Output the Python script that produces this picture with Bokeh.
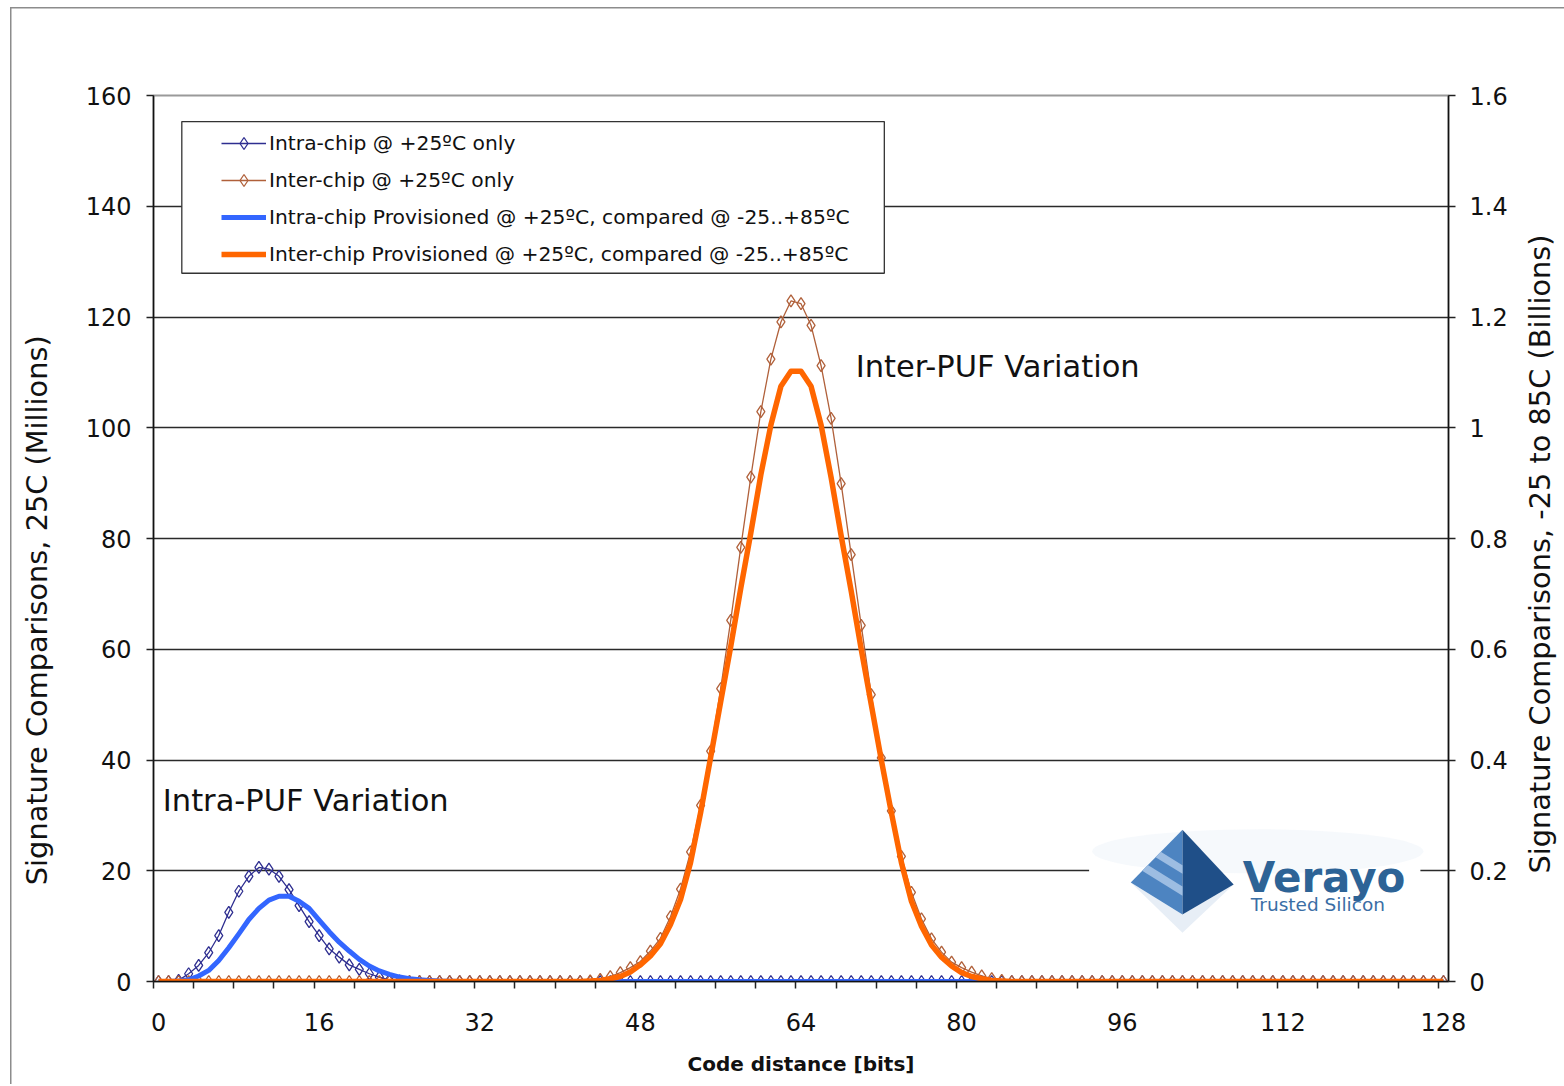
import numpy as np
from bokeh.plotting import figure
from bokeh.models import (Range1d, LinearAxis, FixedTicker, CustomJSTickFormatter,
                          Legend, LegendItem, BoxAnnotation, Label)
from bokeh.embed import file_html
from bokeh.resources import INLINE

# ---------------- data ----------------
N_CATS = 129
categories = list(range(N_CATS))            # code distance 0..128 bits
x_tick_values = [0, 16, 32, 48, 64, 80, 96, 112, 128]
x_minor_ticks = list(range(0, 129, 4))
y_left_ticks = [0, 20, 40, 60, 80, 100, 120, 140, 160]
y_right_ticks = [0, 0.2, 0.4, 0.6, 0.8, 1.0, 1.2, 1.4, 1.6]

# Intra-chip @ +25C only (millions), categories 2..24
intra_25_start = 2
intra_25_vals = [0.2, 1.4, 2.9, 5.2, 8.3, 12.5, 16.3, 19.0, 20.6, 20.3, 19.0, 16.6,
                 13.7, 10.8, 8.3, 5.9, 4.4, 3.0, 2.2, 1.4, 0.8, 0.3, 0.1]
# Inter-chip @ +25C only (millions), categories 43..84
inter_25_start = 43
inter_25_vals = [0.1, 0.4, 0.9, 1.6, 2.5, 3.6, 5.5, 7.8, 11.7, 16.7, 23.4, 31.8, 41.6,
                 52.9, 65.2, 78.4, 91.1, 102.9, 112.4, 119.1, 122.9, 122.4, 118.5, 111.2,
                 101.7, 89.9, 77.1, 64.3, 51.8, 40.4, 30.8, 22.6, 16.1, 11.3, 7.7, 5.3,
                 3.5, 2.5, 1.7, 1.0, 0.5, 0.2]
# Intra-chip provisioned @ +25C, compared @ -25..+85C (billions), categories 2..29
intra_prov_start = 2
intra_prov_vals = [0.001, 0.003, 0.010, 0.020, 0.038, 0.061, 0.086, 0.112, 0.132, 0.147,
                   0.154, 0.154, 0.145, 0.132, 0.111, 0.090, 0.071, 0.055, 0.040, 0.028,
                   0.019, 0.013, 0.008, 0.005, 0.003, 0.002, 0.001, 0.0005]
# Inter-chip provisioned @ +25C, compared @ -25..+85C (billions), categories 43..84
inter_prov_start = 43
inter_prov_vals = [0.001, 0.002, 0.005, 0.009, 0.017, 0.030, 0.046, 0.068, 0.103, 0.148,
                   0.215, 0.305, 0.405, 0.505, 0.605, 0.710, 0.810, 0.915, 1.005, 1.075,
                   1.102, 1.102, 1.075, 1.005, 0.910, 0.805, 0.705, 0.600, 0.500, 0.400,
                   0.305, 0.215, 0.145, 0.100, 0.066, 0.044, 0.028, 0.016, 0.009, 0.005,
                   0.002, 0.001]

legend_labels = ["Intra-chip @ +25ºC only",
                 "Inter-chip @ +25ºC only",
                 "Intra-chip Provisioned @ +25ºC, compared @ -25..+85ºC",
                 "Inter-chip Provisioned @ +25ºC, compared @ -25..+85ºC"]
left_title_text = "Signature Comparisons, 25C (Millions)"
right_title_text = "Signature Comparisons, -25 to 85C (Billions)"
x_title_text = "Code distance [bits]"


def full_series(start, vals):
    arr = [0.0] * N_CATS
    for i, v in enumerate(vals):
        arr[start + i] = v
    return arr


intra_25 = full_series(intra_25_start, intra_25_vals)
inter_25 = full_series(inter_25_start, inter_25_vals)
intra_prov = full_series(intra_prov_start, intra_prov_vals)
inter_prov = full_series(inter_prov_start, inter_prov_vals)

# category axis: each category occupies one unit, point at its centre
xs = [c + 0.5 for c in categories]

FONT = "DejaVu Sans"
TXT = "#111111"

p = figure(frame_width=1295, frame_height=886,
           x_range=Range1d(0, N_CATS), y_range=Range1d(0, 160),
           output_backend="svg", toolbar_location=None,
           min_border_left=153, min_border_right=116,
           min_border_top=95, min_border_bottom=103,
           background_fill_color="white", border_fill_color="white", border_fill_alpha=0)
p.extra_y_ranges = {"right": Range1d(0, 1.6)}
# outer chart frame (left and top edges) drawn behind the transparent canvas border
p.styles = {
    "background-color": "white",
    "background-image": "linear-gradient(#8c8c8c, #8c8c8c), linear-gradient(#8c8c8c, #8c8c8c)",
    "background-size": "1.5px 100%, 100% 1.5px",
    "background-position": "10px 7px, 10px 7px",
    "background-repeat": "no-repeat",
}

p.outline_line_color = "#9a9a9a"
p.outline_line_width = 2

p.xgrid.visible = False
p.ygrid.ticker = FixedTicker(ticks=y_left_ticks[1:-1])
p.ygrid.grid_line_color = "#2a2a2a"
p.ygrid.grid_line_width = 1.5

# x axis
xa = p.xaxis[0]
xa.ticker = FixedTicker(ticks=[v + 0.5 for v in x_tick_values], minor_ticks=x_minor_ticks)
xa.formatter = CustomJSTickFormatter(code="return (tick - 0.5).toFixed(0);")
xa.major_tick_out = 0
xa.major_tick_in = 0
xa.minor_tick_out = 7
xa.minor_tick_in = 0
xa.minor_tick_line_color = "#222222"
xa.minor_tick_line_width = 1.5
xa.axis_line_color = "#111111"
xa.axis_line_width = 1.5
xa.major_label_standoff = 24
xa.major_label_text_font = FONT
xa.major_label_text_font_size = "24px"
xa.major_label_text_color = TXT
xa.axis_label = x_title_text
xa.axis_label_text_font = FONT
xa.axis_label_text_font_style = "bold"
xa.axis_label_text_font_size = "20px"
xa.axis_label_text_color = TXT
xa.axis_label_standoff = 18

# left y axis
ya = p.yaxis[0]
ya.ticker = FixedTicker(ticks=y_left_ticks)
ya.major_tick_out = 7
ya.major_tick_in = 0
ya.minor_tick_out = 0
ya.minor_tick_in = 0
ya.major_tick_line_color = "#222222"
ya.major_tick_line_width = 1.5
ya.axis_line_color = "#111111"
ya.axis_line_width = 1.5
ya.major_label_standoff = 15
ya.major_label_text_font = FONT
ya.major_label_text_font_size = "24px"
ya.major_label_text_color = TXT

# right y axis
ra = LinearAxis(y_range_name="right", ticker=FixedTicker(ticks=y_right_ticks),
                formatter=CustomJSTickFormatter(code="return tick.toFixed(1).replace(/\\.0$/, '');"))
ra.major_tick_out = 7
ra.major_tick_in = 0
ra.minor_tick_out = 0
ra.minor_tick_in = 0
ra.major_tick_line_color = "#222222"
ra.major_tick_line_width = 1.5
ra.axis_line_color = "#111111"
ra.axis_line_width = 1.5
ra.major_label_standoff = 14
ra.major_label_text_font = FONT
ra.major_label_text_font_size = "24px"
ra.major_label_text_color = TXT
p.add_layout(ra, "right")


def title_axis(tick_value, text, standoff):
    """A bare helper axis whose single rotated tick label serves as an axis title."""
    ax = LinearAxis(ticker=FixedTicker(ticks=[tick_value]),
                    formatter=CustomJSTickFormatter(args=dict(t=text), code="return t;"),
                    major_label_orientation=np.pi / 2)
    ax.axis_line_color = None
    ax.major_tick_line_color = None
    ax.minor_tick_line_color = None
    ax.major_tick_out = 0
    ax.major_tick_in = 0
    ax.minor_tick_out = 0
    ax.minor_tick_in = 0
    ax.major_label_standoff = standoff
    ax.major_label_text_font = FONT
    ax.major_label_text_font_size = "28.8px"
    ax.major_label_text_line_height = 0.8
    ax.major_label_text_color = TXT
    return ax


# right title: starts near the bottom and runs upward
p.add_layout(title_axis(19.5, right_title_text, 30), "right")
# left title: ends near the top (label anchored at its end on the left side)
p.add_layout(title_axis(116.7, left_title_text, 45), "left")

# ---------------- logo (decoration) ----------------
p.quad(left=93.2, right=126.2, bottom=8.5, top=30.5, fill_color="white", line_color=None)
p.ellipse(x=110, y=23.5, width=33, height=8, fill_color="#e6eef7", fill_alpha=0.35, line_color=None)
apex = (102.5, 27.4)
lft = (97.35, 17.9)
front = (102.5, 12.1)
rgt = (107.6, 17.5)
p.patch([lft[0], front[0], rgt[0], front[0]], [lft[1], front[1], rgt[1], 8.8],
        fill_color="#b9cde6", fill_alpha=0.35, line_color=None)
p.patch([apex[0], lft[0], front[0]], [apex[1], lft[1], front[1]], fill_color="#4d84c1", line_color=None)
p.patch([apex[0], front[0], rgt[0]], [apex[1], front[1], rgt[1]], fill_color="#1f4f88", line_color=None)
for t1, t2 in [(0.22, 0.33), (0.48, 0.58)]:
    a1 = (lft[0] + t1 * (apex[0] - lft[0]), lft[1] + t1 * (apex[1] - lft[1]))
    a2 = (lft[0] + t2 * (apex[0] - lft[0]), lft[1] + t2 * (apex[1] - lft[1]))
    b1 = (front[0] + t1 * (apex[0] - front[0]), front[1] + t1 * (apex[1] - front[1]))
    b2 = (front[0] + t2 * (apex[0] - front[0]), front[1] + t2 * (apex[1] - front[1]))
    p.patch([a1[0], a2[0], b2[0], b1[0]], [a1[1], a2[1], b2[1], b1[1]],
            fill_color="#9dbde2", line_color=None)
p.add_layout(Label(x=108.5, y=18.8, text="Verayo", text_font=FONT, text_font_style="bold",
                   text_font_size="42px", text_color="#2d6396", text_baseline="alphabetic"))
p.add_layout(Label(x=109.3, y=13.9, text="Trusted Silicon", text_font=FONT,
                   text_font_size="18.5px", text_color="#3a6ea5", text_baseline="alphabetic"))

# ---------------- series ----------------
navy = "#2e2e90"
brown = "#b0603a"
l1 = p.line(xs, intra_25, line_color=navy, line_width=1.3)
s1 = p.scatter(xs, intra_25, marker="diamond", size=12,
               line_color=navy, fill_alpha=0, line_width=1.3)
l2 = p.line(xs, inter_25, line_color=brown, line_width=1.3)
s2 = p.scatter(xs, inter_25, marker="diamond", size=12,
               line_color=brown, fill_alpha=0, line_width=1.3)
l3 = p.line(xs, intra_prov, line_color="#3366ff", line_width=5, line_join="round",
            y_range_name="right")
l4 = p.line(xs, inter_prov, line_color="#ff6600", line_width=5.5, line_join="round",
            y_range_name="right")

# ---------------- legend ----------------
p.add_layout(BoxAnnotation(left=2.82, right=72.8, bottom=127.9, top=155.3,
                           fill_color="white", fill_alpha=1.0,
                           line_color="#333333", line_alpha=1.0, line_width=1.3))
legend = Legend(items=[LegendItem(label=legend_labels[0], renderers=[l1, s1]),
                       LegendItem(label=legend_labels[1], renderers=[l2, s2]),
                       LegendItem(label=legend_labels[2], renderers=[l3]),
                       LegendItem(label=legend_labels[3], renderers=[l4])],
                location=(63, 707), padding=5, spacing=7, margin=0,
                glyph_width=45, glyph_height=30, label_height=30, label_standoff=3,
                label_text_font=FONT, label_text_font_size="20.3px", label_text_color=TXT,
                border_line_alpha=0, background_fill_alpha=0)
p.add_layout(legend)

# ---------------- annotations ----------------
p.add_layout(Label(x=69.95, y=111.1, text="Inter-PUF Variation", text_font=FONT,
                   text_font_size="30.5px", text_color=TXT, text_baseline="alphabetic"))
p.add_layout(Label(x=0.93, y=32.7, text="Intra-PUF Variation", text_font=FONT,
                   text_font_size="30.5px", text_color=TXT, text_baseline="alphabetic"))

open("out.html", "w").write(file_html(p, INLINE))
